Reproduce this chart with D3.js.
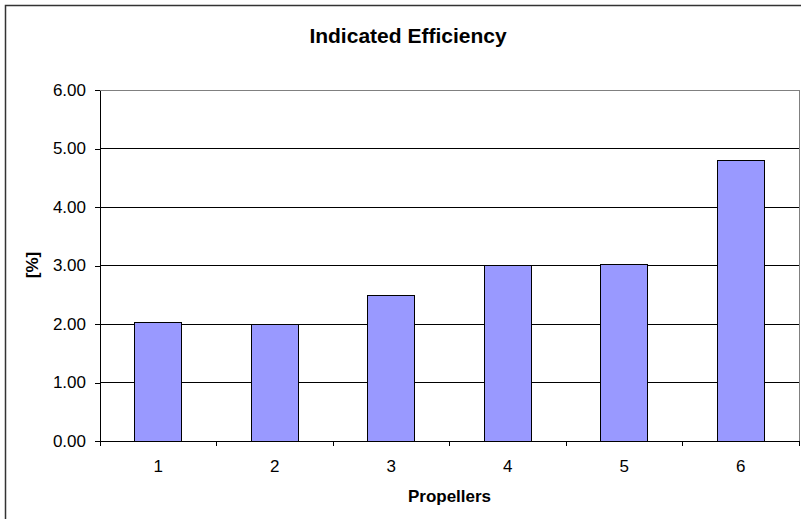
<!DOCTYPE html>
<html>
<head>
  <meta charset="utf-8">
  <title>Indicated Efficiency</title>
  <script src="https://cdn.jsdelivr.net/npm/d3@7"></script>
  <style>
    body { margin: 0; background: #fff; }
    text { font-family: "Liberation Sans", Arial, sans-serif; fill: #000; }
    .axis path, .axis line { stroke: #000; shape-rendering: crispEdges; }
    .axis text { font-size: 17px; }
    .grid line { stroke: #000; shape-rendering: crispEdges; }
    .bar { fill: #9999ff; stroke: #000; stroke-width: 1; shape-rendering: crispEdges; }
    .label { font-weight: bold; font-size: 17px; }
  </style>
</head>
<body>
  <svg id="chart"></svg>
  <script>
    var propellers = ['1', '2', '3', '4', '5', '6'];
    var efficiency = [2.03, 1.99, 2.49, 3.00, 3.02, 4.80];
    var yTicks = [0, 1, 2, 3, 4, 5, 6];

    var W = 801, H = 519;
    var plot = { left: 100, right: 799, top: 90, bottom: 441 };

    var svg = d3.select('#chart')
      .attr('width', W)
      .attr('height', H);

    // outer chart frame
    svg.append('rect')
      .attr('x', 5.5).attr('y', 5.5)
      .attr('width', 810).attr('height', 530)
      .attr('fill', '#fff')
      .attr('stroke', '#333')
      .attr('stroke-width', 1.5);

    var x = d3.scaleBand()
      .domain(propellers)
      .range([plot.left, plot.right])
      .padding(0);

    var y = d3.scaleLinear()
      .domain([0, 6])
      .range([plot.bottom, plot.top]);

    // gridlines
    svg.append('g')
      .attr('class', 'grid')
      .selectAll('line')
      .data(yTicks.slice(1))
      .enter()
      .append('line')
      .attr('x1', plot.left)
      .attr('x2', plot.right)
      .attr('y1', d => y(d))
      .attr('y2', d => y(d));

    // plot area border (gray)
    svg.append('rect')
      .attr('x', plot.left)
      .attr('y', y(6))
      .attr('width', plot.right - plot.left)
      .attr('height', y(0) - y(6))
      .attr('fill', 'none')
      .attr('stroke', '#808080')
      .attr('shape-rendering', 'crispEdges');

    // bars
    var data = propellers.map((p, i) => ({ p: p, v: efficiency[i] }));
    svg.selectAll('.bar')
      .data(data)
      .enter()
      .append('rect')
      .attr('class', 'bar')
      .attr('x', d => x(d.p) + x.bandwidth() * 0.3)
      .attr('width', x.bandwidth() * 0.4)
      .attr('y', d => y(d.v))
      .attr('height', d => y(0) - y(d.v));

    // y axis
    var yAxis = d3.axisLeft(y)
      .tickValues(yTicks)
      .tickFormat(d3.format('.2f'))
      .tickSizeInner(5)
      .tickSizeOuter(0)
      .tickPadding(9);

    svg.append('g')
      .attr('class', 'axis')
      .attr('transform', 'translate(' + plot.left + ',0)')
      .call(yAxis);

    // x axis (labels at band centres, ticks at band edges)
    var xAxis = d3.axisBottom(x)
      .tickSize(0)
      .tickPadding(19);

    var gx = svg.append('g')
      .attr('class', 'axis')
      .attr('transform', 'translate(0,' + plot.bottom + ')')
      .call(xAxis);

    var edges = propellers.map(p => x(p)).concat([x(propellers[propellers.length - 1]) + x.step()]);
    gx.selectAll('.edge')
      .data(edges)
      .enter()
      .append('line')
      .attr('class', 'edge')
      .attr('x1', d => d).attr('x2', d => d)
      .attr('y1', 0).attr('y2', 5);

    // title and axis labels
    svg.append('text')
      .attr('x', 408)
      .attr('y', 43)
      .attr('text-anchor', 'middle')
      .style('font-weight', 'bold')
      .style('font-size', '21px')
      .text('Indicated Efficiency');

    svg.append('text')
      .attr('class', 'label')
      .attr('x', (plot.left + plot.right) / 2)
      .attr('y', 502)
      .attr('text-anchor', 'middle')
      .text('Propellers');

    svg.append('text')
      .attr('class', 'label')
      .attr('transform', 'translate(38,265) rotate(-90)')
      .attr('text-anchor', 'middle')
      .text('[%]');
  </script>
</body>
</html>
